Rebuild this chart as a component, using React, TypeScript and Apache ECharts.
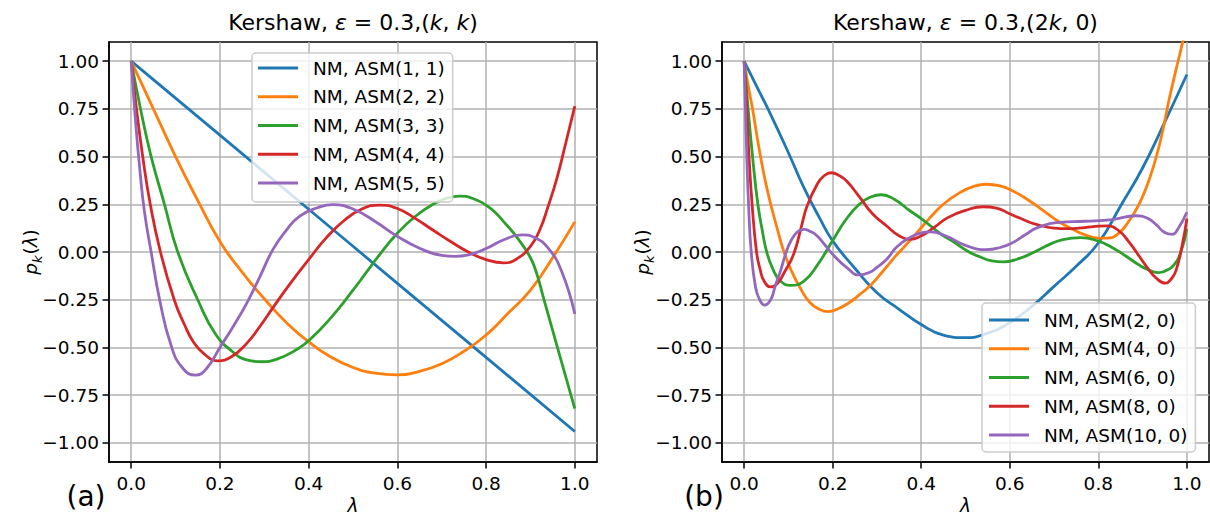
import { useEffect, useRef } from 'react';
import * as echarts from 'echarts';

// Tick positions and labels
const xTicks = [0, 0.2, 0.4, 0.6, 0.8, 1.0];
const yTicks = [-1, -0.75, -0.5, -0.25, 0, 0.25, 0.5, 0.75, 1];

const COLORS = ['#1f77b4', '#ff7f0e', '#2ca02c', '#d62728', '#9467bd'];

// Panel (a): Kershaw, eps = 0.3, (k, k)
const leftNames = ['NM, ASM(1, 1)', 'NM, ASM(2, 2)', 'NM, ASM(3, 3)', 'NM, ASM(4, 4)', 'NM, ASM(5, 5)'];

const asm11 = [[0, 1], [0.25, 0.515], [0.5, 0.03], [0.75, -0.455], [1.0, -0.94]];

const asm22 = [
  [0, 1], [0.05, 0.75], [0.1, 0.5], [0.15, 0.27], [0.2, 0.055], [0.25, -0.105], [0.3, -0.245],
  [0.35, -0.37], [0.4, -0.47], [0.45, -0.55], [0.5, -0.605], [0.55, -0.635], [0.6, -0.644],
  [0.65, -0.625], [0.7, -0.585], [0.75, -0.52], [0.8, -0.435], [0.85, -0.32], [0.9, -0.2],
  [0.95, -0.03], [1.0, 0.158],
];

const asm33 = [
  [0, 1], [0.021, 0.75], [0.045, 0.5], [0.075, 0.25], [0.105, 0], [0.15, -0.25], [0.19, -0.43],
  [0.23, -0.525], [0.26, -0.565], [0.295, -0.575], [0.33, -0.56], [0.37, -0.515], [0.4, -0.465],
  [0.45, -0.345], [0.5, -0.2], [0.53, -0.107], [0.56, -0.014], [0.6, 0.098], [0.64, 0.186],
  [0.68, 0.25], [0.71, 0.281], [0.74, 0.293], [0.77, 0.28], [0.81, 0.228], [0.84, 0.158],
  [0.87, 0.075], [0.9, -0.03], [0.915, -0.12], [0.93, -0.245], [0.95, -0.41], [0.97, -0.575],
  [1.0, -0.82],
];

const asm44 = [
  [0, 1], [0.012, 0.75], [0.026, 0.5], [0.043, 0.25], [0.066, 0], [0.097, -0.25], [0.12, -0.38],
  [0.14, -0.47], [0.165, -0.535], [0.195, -0.57], [0.225, -0.55], [0.26, -0.48], [0.29, -0.39],
  [0.32, -0.29], [0.36, -0.16], [0.4, -0.04], [0.44, 0.075], [0.48, 0.165], [0.52, 0.225],
  [0.56, 0.246], [0.6, 0.228], [0.64, 0.176], [0.68, 0.115], [0.72, 0.055], [0.76, 0.0],
  [0.8, -0.04], [0.84, -0.057], [0.87, -0.035], [0.9, 0.03], [0.92, 0.11], [0.94, 0.24],
  [0.96, 0.39], [0.98, 0.575], [1.0, 0.764],
];

const asm55 = [
  [0, 1], [0.01, 0.68], [0.02, 0.42], [0.03, 0.21], [0.045, 0.0], [0.065, -0.26], [0.09, -0.49],
  [0.115, -0.605], [0.145, -0.645], [0.17, -0.61], [0.2, -0.5], [0.23, -0.39], [0.26, -0.27],
  [0.29, -0.13], [0.32, 0.015], [0.35, 0.115], [0.38, 0.188], [0.42, 0.232], [0.455, 0.248],
  [0.5, 0.225], [0.55, 0.16], [0.6, 0.082], [0.65, 0.02], [0.7, -0.018], [0.73, -0.023],
  [0.76, -0.015], [0.8, 0.018], [0.84, 0.064], [0.88, 0.09], [0.91, 0.075], [0.94, 0.02],
  [0.97, -0.1], [1.0, -0.325],
];

// Panel (b): Kershaw, eps = 0.3, (2k, 0)
const rightNames = ['NM, ASM(2, 0)', 'NM, ASM(4, 0)', 'NM, ASM(6, 0)', 'NM, ASM(8, 0)', 'NM, ASM(10, 0)'];

const asm20 = [
  [0, 1], [0.03, 0.86], [0.06, 0.72], [0.1, 0.52], [0.135, 0.337], [0.17, 0.18], [0.2, 0.058],
  [0.25, -0.085], [0.3, -0.213], [0.35, -0.3], [0.4, -0.38], [0.45, -0.435], [0.5, -0.449],
  [0.55, -0.425], [0.6, -0.37], [0.65, -0.285], [0.7, -0.18], [0.75, -0.075], [0.8, 0.047],
  [0.85, 0.24], [0.9, 0.44], [0.95, 0.68], [1.0, 0.93],
];

const asm40 = [
  [0, 1], [0.01, 0.86], [0.019, 0.75], [0.028, 0.62], [0.037, 0.5], [0.048, 0.37], [0.06, 0.25],
  [0.075, 0.12], [0.09, 0.0], [0.107, -0.1], [0.127, -0.19], [0.148, -0.263], [0.17, -0.3],
  [0.19, -0.312], [0.21, -0.3], [0.237, -0.266], [0.26, -0.225], [0.285, -0.175], [0.31, -0.11],
  [0.342, -0.022], [0.36, 0.023], [0.39, 0.1], [0.42, 0.18], [0.45, 0.25], [0.487, 0.311],
  [0.52, 0.345], [0.547, 0.355], [0.58, 0.345], [0.607, 0.32], [0.64, 0.275], [0.682, 0.206],
  [0.71, 0.16], [0.742, 0.119], [0.77, 0.09], [0.8, 0.073], [0.82, 0.073], [0.847, 0.1],
  [0.87, 0.165], [0.885, 0.22], [0.9, 0.29], [0.915, 0.38], [0.93, 0.49], [0.945, 0.63],
  [0.96, 0.8], [0.975, 0.95], [0.99, 1.094], [1.0, 1.2],
];

const asm60 = [
  [0, 1], [0.009, 0.75], [0.019, 0.5], [0.031, 0.25], [0.042, 0.1], [0.051, 0], [0.065, -0.09],
  [0.082, -0.152], [0.105, -0.175], [0.135, -0.152], [0.165, -0.07], [0.2, 0.06], [0.23, 0.17],
  [0.26, 0.25], [0.285, 0.287], [0.31, 0.3], [0.34, 0.275], [0.372, 0.22], [0.4, 0.175],
  [0.447, 0.09], [0.472, 0.055], [0.508, 0.0], [0.532, -0.025], [0.56, -0.047], [0.585, -0.052],
  [0.62, -0.035], [0.652, -0.004], [0.69, 0.04], [0.72, 0.065], [0.76, 0.075], [0.8, 0.057],
  [0.83, 0.025], [0.862, -0.021], [0.89, -0.065], [0.91, -0.09], [0.935, -0.108], [0.955, -0.095],
  [0.97, -0.07], [0.986, -0.003], [1.0, 0.12],
];

const asm80 = [
  [0, 1], [0.006, 0.75], [0.011, 0.5], [0.018, 0.25], [0.028, 0.0], [0.036, -0.09], [0.045, -0.152],
  [0.06, -0.183], [0.075, -0.165], [0.09, -0.11], [0.112, -0.01], [0.13, 0.14], [0.142, 0.24],
  [0.165, 0.355], [0.18, 0.398], [0.197, 0.415], [0.215, 0.4], [0.232, 0.371], [0.26, 0.29],
  [0.29, 0.2], [0.322, 0.136], [0.35, 0.085], [0.374, 0.066], [0.4, 0.085], [0.43, 0.13],
  [0.46, 0.18], [0.5, 0.218], [0.54, 0.237], [0.57, 0.23], [0.6, 0.2], [0.63, 0.17], [0.66, 0.145],
  [0.7, 0.125], [0.73, 0.122], [0.77, 0.128], [0.8, 0.135], [0.82, 0.137], [0.847, 0.11],
  [0.87, 0.05], [0.892, -0.021], [0.91, -0.08], [0.93, -0.135], [0.952, -0.163], [0.965, -0.14],
  [0.975, -0.1], [0.989, 0.03], [1.0, 0.175],
];

const asm100 = [
  [0, 1], [0.003, 0.75], [0.006, 0.5], [0.01, 0.25], [0.016, 0.0], [0.026, -0.187], [0.035, -0.25],
  [0.046, -0.278], [0.06, -0.25], [0.07, -0.18], [0.082, -0.1], [0.095, 0.0], [0.105, 0.055],
  [0.12, 0.105], [0.135, 0.118], [0.15, 0.107], [0.165, 0.084], [0.185, 0.03], [0.2, -0.012],
  [0.232, -0.082], [0.26, -0.12], [0.285, -0.105], [0.3, -0.08], [0.322, -0.038], [0.344, 0.025],
  [0.374, 0.075], [0.4, 0.1], [0.42, 0.105], [0.456, 0.084], [0.5, 0.035], [0.547, 0.012],
  [0.58, 0.025], [0.607, 0.05], [0.635, 0.09], [0.66, 0.125], [0.712, 0.155], [0.77, 0.161],
  [0.832, 0.17], [0.885, 0.19], [0.91, 0.178], [0.93, 0.145], [0.948, 0.105], [0.967, 0.092],
  [0.982, 0.13], [1.0, 0.208],
];

const leftData = [asm11, asm22, asm33, asm44, asm55];
const rightData = [asm20, asm40, asm60, asm80, asm100];

const FONT = 'DejaVu Sans';
const FS = 18.5;

function fmtY(v: number) {
  return (v < 0 ? '\u2212' : '') + Math.abs(v).toFixed(2);
}

function xAxisFor(i: number) {
  return {
    type: 'value', gridIndex: i, min: -0.05, max: 1.05,
    axisLine: { show: true, onZero: false, lineStyle: { color: '#000', width: 1.5 } },
    axisTick: { show: true, length: 6.5, customValues: xTicks, lineStyle: { color: '#000', width: 1.5 } },
    axisLabel: {
      customValues: xTicks, margin: 12, fontSize: FS, fontFamily: FONT, color: '#000',
      formatter: (v: number) => v.toFixed(1),
    },
    splitLine: { show: true, lineStyle: { color: '#b0b0b0', width: 1.5 } },
  };
}

function yAxisFor(i: number) {
  return {
    type: 'value', gridIndex: i, min: -1.1, max: 1.1,
    axisLine: { show: true, onZero: false, lineStyle: { color: '#000', width: 1.5 } },
    axisTick: { show: true, length: 6.5, customValues: yTicks, lineStyle: { color: '#000', width: 1.5 } },
    axisLabel: {
      customValues: yTicks, margin: 10, fontSize: FS, fontFamily: FONT, color: '#000',
      formatter: fmtY,
    },
    splitLine: { show: true, lineStyle: { color: '#b0b0b0', width: 1.5 } },
  };
}

function legendFor(names: string[], left: number, top: number, padding: number[]) {
  return {
    data: names, orient: 'vertical', left, top,
    icon: 'rect', itemWidth: 40, itemHeight: 3, itemGap: 8.75,
    padding,
    backgroundColor: 'rgba(255,255,255,0.8)',
    borderColor: '#cccccc', borderWidth: 1.5, borderRadius: 4,
    selectedMode: false,
    textStyle: { fontSize: FS, lineHeight: 20, fontFamily: FONT, color: '#000', padding: [0, 0, 0, 10] },
  };
}

function seriesFor(names: string[], data: number[][][], idx: number) {
  return names.map((name, k) => ({
    name, type: 'line', xAxisIndex: idx, yAxisIndex: idx,
    data: data[k], showSymbol: false, symbol: 'none', smooth: 0.5,
    clip: true, color: COLORS[k],
    lineStyle: { color: COLORS[k], width: 2.8 },
  }));
}

const richBase = { fontSize: FS, fontFamily: FONT, fill: '#000' };

function textEl(x: number, y: number, text: string, size: number, rich: any = {}, rotation = 0) {
  return {
    type: 'text', x, y, rotation, z: 10,
    style: {
      text, fill: '#000', fontSize: size, fontFamily: FONT,
      textAlign: 'center', textVerticalAlign: 'middle', verticalAlign: 'middle', rich,
    },
  };
}

const titleRich = {
  i: { fontSize: 22, fontFamily: FONT, fontStyle: 'italic', color: '#000' },
};

const ylabelRich = {
  i: { ...richBase, fontStyle: 'italic', verticalAlign: 'top', lineHeight: 20 },
  n: { ...richBase, verticalAlign: 'top', lineHeight: 20 },
  s: { fontSize: 13, fontFamily: FONT, fontStyle: 'italic', verticalAlign: 'top', lineHeight: 13, padding: [10, 1, 0, 0] },
};

const lamRich = { i: { ...richBase, fontStyle: 'italic', lineHeight: 20 } };

export default function App() {
  const ref = useRef<HTMLDivElement>(null);
  useEffect(() => {
    if (!ref.current) return;
    const chart = echarts.init(ref.current, null, { renderer: 'svg' });
    chart.setOption({
      animation: false,
      backgroundColor: '#fff',
      textStyle: { fontFamily: FONT },
      grid: [
        { left: 109, top: 42, width: 488, height: 420, show: true, borderColor: '#000', borderWidth: 1.5, backgroundColor: 'transparent' },
        { left: 722, top: 42, width: 487, height: 420, show: true, borderColor: '#000', borderWidth: 1.5, backgroundColor: 'transparent' },
      ],
      xAxis: [xAxisFor(0), xAxisFor(1)],
      yAxis: [yAxisFor(0), yAxisFor(1)],
      legend: [
        legendFor(leftNames, 252, 53, [5, 8, 9, 6]),
        legendFor(rightNames, 982, 303, [7, 8, 7, 7]),
      ],
      series: [...seriesFor(leftNames, leftData, 0), ...seriesFor(rightNames, rightData, 1)],
      graphic: {
        elements: [
          textEl(353, 22, 'Kershaw, {i|ε} = 0.3,({i|k}, {i|k})', 22, titleRich),
          textEl(965.5, 22, 'Kershaw, {i|ε} = 0.3,(2{i|k}, 0)', 22, titleRich),
          textEl(31, 252, '{i|p}{s|k}{n|(}{i|λ}{n|)}', FS, ylabelRich, Math.PI / 2),
          textEl(643, 252, '{i|p}{s|k}{n|(}{i|λ}{n|)}', FS, ylabelRich, Math.PI / 2),
          textEl(353, 505, '{i|λ}', FS, lamRich),
          textEl(965.5, 505, '{i|λ}', FS, lamRich),
          textEl(86, 496, '(a)', 28),
          textEl(704, 496, '(b)', 28),
        ],
      },
    });
    return () => chart.dispose();
  }, []);
  return <div ref={ref} style={{ position: 'absolute', left: 0, top: 0, width: 1210, height: 518 }} />;
}
